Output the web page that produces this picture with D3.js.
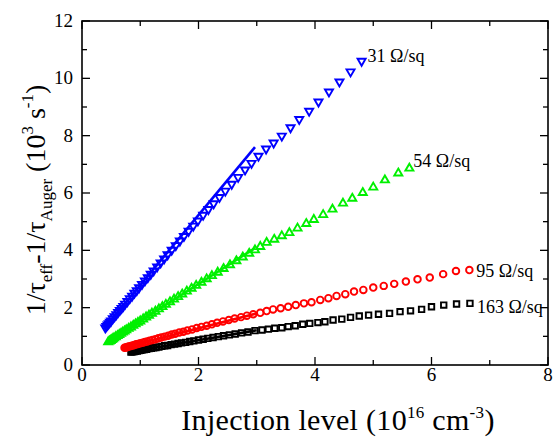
<!DOCTYPE html>
<html><head><meta charset="utf-8">
<script src="https://cdn.jsdelivr.net/npm/d3@7"></script>
<style>body{margin:0;background:#fff}svg{display:block}svg text{font-family:"Liberation Serif","Times New Roman",serif}</style>
</head><body>
<svg id="c" width="555" height="439"></svg>
<script>
// ---- data ----
const xTicks = [0, 2, 4, 6, 8];
const yTicks = [0, 2, 4, 6, 8, 10, 12];
const seriesNames = ["31 Ω/sq", "54 Ω/sq", "95 Ω/sq", "163 Ω/sq"];

const blueX = [0.40,0.42,0.44,0.46,0.48,0.50,0.53,0.56,0.59,0.62,0.65,0.68,0.71,0.74,0.78,0.82,0.86,0.90,0.94,0.98,1.03,1.08,1.13,1.18,1.23,1.29,1.35,1.41,1.47,1.54,1.61,1.68,1.75,1.83,1.91,1.99,2.08,2.17,2.26,2.36,2.46,2.57,2.68,2.80,2.91,3.03,3.16,3.29,3.43,3.58,3.73,3.90,4.06,4.24,4.42,4.61,4.80];
const blueY = [1.30,1.35,1.40,1.45,1.50,1.54,1.62,1.69,1.76,1.84,1.91,1.98,2.05,2.13,2.22,2.32,2.41,2.51,2.60,2.70,2.82,2.94,3.05,3.17,3.29,3.43,3.57,3.71,3.85,4.01,4.17,4.33,4.49,4.67,4.85,5.03,5.23,5.43,5.63,5.85,6.07,6.31,6.55,6.81,7.04,7.29,7.54,7.75,7.99,8.28,8.57,8.86,9.18,9.53,9.88,10.23,10.60];
const blueFitX = [0.37, 2.97];
const blueFitY = [1.25, 7.60];

const greenX = [0.45,0.47,0.49,0.51,0.53,0.55,0.58,0.61,0.64,0.67,0.70,0.73,0.76,0.80,0.84,0.88,0.92,0.96,1.00,1.05,1.10,1.15,1.20,1.26,1.32,1.38,1.44,1.51,1.58,1.65,1.72,1.80,1.88,1.96,2.05,2.14,2.23,2.33,2.43,2.54,2.65,2.76,2.87,2.97,3.06,3.17,3.30,3.43,3.56,3.70,3.85,3.98,4.14,4.30,4.48,4.64,4.82,5.00,5.20,5.43,5.62];
const greenY = [0.80,0.83,0.85,0.88,0.91,0.94,0.98,1.02,1.06,1.10,1.14,1.18,1.22,1.27,1.32,1.38,1.43,1.48,1.53,1.60,1.67,1.73,1.80,1.87,1.95,2.03,2.11,2.20,2.29,2.38,2.47,2.57,2.67,2.77,2.88,3.00,3.11,3.23,3.36,3.49,3.63,3.76,3.89,4.01,4.13,4.27,4.38,4.50,4.61,4.77,4.93,5.07,5.24,5.43,5.64,5.81,6.01,6.20,6.45,6.69,6.86];
const greenFitX = [0.45, 2.97];
const greenFitY = [0.82, 4.08];

const redX = [0.73,0.75,0.77,0.79,0.81,0.84,0.87,0.90,0.93,0.96,1.00,1.04,1.08,1.12,1.16,1.21,1.26,1.31,1.36,1.42,1.48,1.54,1.60,1.67,1.74,1.81,1.89,1.97,2.05,2.14,2.23,2.32,2.42,2.52,2.62,2.73,2.83,2.94,3.06,3.17,3.28,3.41,3.54,3.67,3.81,3.94,4.09,4.23,4.37,4.52,4.67,4.83,5.00,5.18,5.36,5.56,5.76,5.97,6.20,6.42,6.65];
const redY = [0.60,0.61,0.62,0.64,0.65,0.66,0.68,0.70,0.72,0.73,0.76,0.78,0.80,0.82,0.85,0.87,0.90,0.93,0.96,0.99,1.02,1.06,1.09,1.13,1.16,1.20,1.24,1.29,1.33,1.37,1.42,1.47,1.52,1.57,1.62,1.67,1.72,1.77,1.82,1.88,1.94,1.98,2.03,2.09,2.15,2.19,2.27,2.33,2.41,2.47,2.56,2.62,2.70,2.76,2.83,2.91,2.99,3.05,3.17,3.28,3.31];
const redFitX = [0.73, 3.00];
const redFitY = [0.62, 1.80];

const blackX = [0.84,0.86,0.88,0.90,0.92,0.95,0.98,1.01,1.04,1.07,1.11,1.15,1.19,1.23,1.27,1.32,1.37,1.42,1.47,1.53,1.59,1.65,1.71,1.78,1.85,1.92,2.00,2.08,2.16,2.25,2.34,2.43,2.53,2.63,2.74,2.85,2.97,3.09,3.20,3.31,3.43,3.54,3.66,3.79,3.91,4.05,4.17,4.31,4.46,4.61,4.76,4.92,5.09,5.28,5.46,5.64,5.83,6.00,6.21,6.43,6.66];
const blackY = [0.45,0.46,0.47,0.47,0.48,0.49,0.50,0.51,0.53,0.54,0.55,0.57,0.58,0.60,0.61,0.63,0.65,0.67,0.68,0.71,0.73,0.75,0.77,0.79,0.82,0.84,0.87,0.90,0.93,0.96,0.99,1.02,1.05,1.08,1.12,1.15,1.20,1.22,1.25,1.28,1.30,1.34,1.37,1.42,1.45,1.48,1.51,1.57,1.60,1.66,1.71,1.74,1.77,1.80,1.86,1.89,1.94,2.03,2.09,2.13,2.15];
const blackFitX = [0.84, 3.00];
const blackFitY = [0.46, 1.21];

// ---- layout ----
const L = 82, R = 548, T = 21, B = 365;
const x = d3.scaleLinear().domain([0, 8]).range([L, R]);
const y = d3.scaleLinear().domain([0, 12]).range([B, T]);
const svg = d3.select("#c");

const zip = (xs, ys) => xs.map((v, i) => [v, ys[i]]);
const series = [
  {pts: zip(blackX, blackY), fit: zip(blackFitX, blackFitY), color: "#000000", sym: d3.symbolSquare, size: 30, rot: 0, label: seriesNames[3], dx: 7, dy: 10},
  {pts: zip(redX, redY), fit: zip(redFitX, redFitY), color: "#ff0000", sym: d3.symbolCircle, size: 34, rot: 0, label: seriesNames[2], dx: 7, dy: 7},
  {pts: zip(greenX, greenY), fit: zip(greenFitX, greenFitY), color: "#00f000", sym: d3.symbolTriangle, size: 28, rot: 0, label: seriesNames[1], dx: 4, dy: -1},
  {pts: zip(blueX, blueY), fit: zip(blueFitX, blueFitY), color: "#0000ff", sym: d3.symbolTriangle, size: 28, rot: 180, label: seriesNames[0], dx: 6, dy: 1}
];

svg.append("defs").append("clipPath").attr("id", "pc")
  .append("rect").attr("x", L).attr("y", T).attr("width", R - L).attr("height", B - T);
const plot = svg.append("g").attr("clip-path", "url(#pc)");
const line = d3.line().x(d => x(d[0])).y(d => y(d[1]));

series.forEach(s => {
  plot.append("g").selectAll("path").data(s.pts).enter().append("path")
    .attr("d", d3.symbol().type(s.sym).size(s.size))
    .attr("transform", d => `translate(${x(d[0])},${y(d[1])}) rotate(${s.rot})`)
    .attr("fill", "none").attr("stroke", s.color).attr("stroke-width", 1.9);
  plot.append("path").datum(s.fit).attr("d", line)
    .attr("fill", "none").attr("stroke", s.color).attr("stroke-width", 2.6);
});

// labels
series.forEach(s => {
  const last = s.pts[s.pts.length - 1];
  svg.append("text").attr("x", x(last[0]) + s.dx).attr("y", y(last[1]) + s.dy)
    .attr("font-family", "Liberation Serif").attr("font-size", 18).attr("fill", "#000").text(s.label);
});

// axes: ticks inward on all four sides
const ax = svg.append("g").attr("stroke", "#000").attr("stroke-width", 1.3);
d3.range(0, 9, 1).forEach(v => {
  const len = v % 2 === 0 ? 8 : 5;
  ax.append("line").attr("x1", x(v)).attr("x2", x(v)).attr("y1", B).attr("y2", B - len);
  ax.append("line").attr("x1", x(v)).attr("x2", x(v)).attr("y1", T).attr("y2", T + len);
});
d3.range(0, 13, 1).forEach(v => {
  const len = v % 2 === 0 ? 8 : 5;
  ax.append("line").attr("y1", y(v)).attr("y2", y(v)).attr("x1", L).attr("x2", L + len);
  ax.append("line").attr("y1", y(v)).attr("y2", y(v)).attr("x1", R).attr("x2", R - len);
});
svg.append("rect").attr("x", L).attr("y", T).attr("width", R - L).attr("height", B - T)
  .attr("fill", "none").attr("stroke", "#000").attr("stroke-width", 1.6);

svg.append("g").selectAll("text").data(xTicks).enter().append("text")
  .attr("x", d => x(d)).attr("y", B + 16).attr("text-anchor", "middle")
  .attr("font-family", "Liberation Serif").attr("font-size", 19).text(d => String(d));
svg.append("g").selectAll("text").data(yTicks).enter().append("text")
  .attr("x", L - 9).attr("y", d => y(d) + 6).attr("text-anchor", "end")
  .attr("font-family", "Liberation Serif").attr("font-size", 19).text(d => String(d));

// x title
const xt = svg.append("text").attr("x", 338).attr("y", 430).attr("text-anchor", "middle")
  .attr("font-family", "Liberation Serif").attr("font-size", 30).attr("letter-spacing", 0.3);
xt.append("tspan").text("Injection level (10");
xt.append("tspan").attr("font-size", 17).attr("dy", -12).text("16");
xt.append("tspan").attr("dy", 12).text(" cm");
xt.append("tspan").attr("font-size", 17).attr("dy", -12).text("-3");
xt.append("tspan").attr("dy", 12).text(")");

// y title
const yt = svg.append("text").attr("transform", "translate(45,200) rotate(-90)")
  .attr("text-anchor", "middle").attr("font-family", "Liberation Serif").attr("font-size", 28);
yt.append("tspan").text("1/τ");
yt.append("tspan").attr("font-size", 17).attr("dy", 7).text("eff");
yt.append("tspan").attr("dy", -7).text("-1/τ");
yt.append("tspan").attr("font-size", 17).attr("dy", 7).text("Auger");
yt.append("tspan").attr("dy", -7).text(" (10");
yt.append("tspan").attr("font-size", 17).attr("dy", -12).text("3");
yt.append("tspan").attr("dy", 12).text(" s");
yt.append("tspan").attr("font-size", 17).attr("dy", -12).text("-1");
yt.append("tspan").attr("dy", 12).text(")");
</script>
</body></html>
